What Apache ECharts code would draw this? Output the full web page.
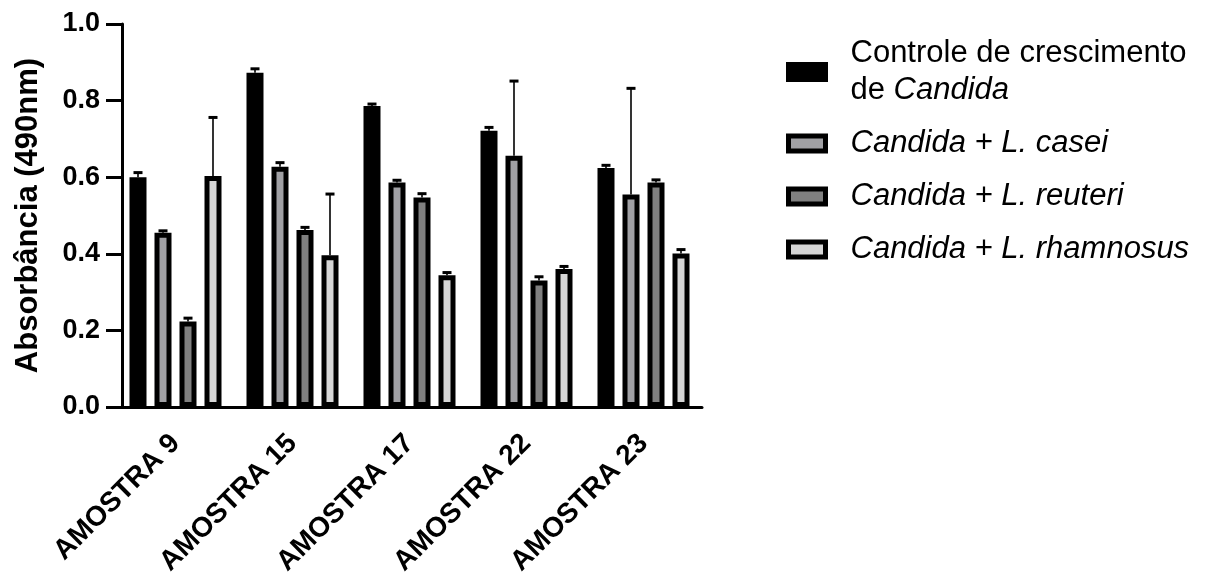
<!DOCTYPE html>
<html>
<head>
<meta charset="UTF-8">
<title>Absorbância</title>
<script src="https://cdn.jsdelivr.net/npm/echarts@6/dist/echarts.min.js"></script>
<style>
  html, body { margin: 0; padding: 0; background: #fff; }
  #main { width: 1219px; height: 583px; }
</style>
</head>
<body>
<div id="main"></div>
<script>
// categorias e valores
var categories = ['AMOSTRA 9', 'AMOSTRA 15', 'AMOSTRA 17', 'AMOSTRA 22', 'AMOSTRA 23'];
var yTicks = [0, 0.2, 0.4, 0.6, 0.8, 1.0];

var controle = [0.600, 0.873, 0.786, 0.721, 0.624];
var controleErr = [0.012, 0.010, 0.005, 0.009, 0.007];
var casei = [0.455, 0.627, 0.586, 0.656, 0.555];
var caseiErr = [0.005, 0.011, 0.006, 0.195, 0.277];
var reuteri = [0.223, 0.462, 0.547, 0.330, 0.586];
var reuteriErr = [0.009, 0.007, 0.010, 0.010, 0.007];
var rhamnosus = [0.603, 0.396, 0.344, 0.360, 0.401];
var rhamnosusErr = [0.153, 0.160, 0.007, 0.007, 0.010];

var names = ['Controle de crescimento de Candida', 'Candida + L. casei', 'Candida + L. reuteri', 'Candida + L. rhamnosus'];
var legendText = {
  'Controle de crescimento de Candida': '{n|Controle de crescimento}\n{n|de }{i|Candida}',
  'Candida + L. casei': '{i|Candida + L. casei}',
  'Candida + L. reuteri': '{i|Candida + L. reuteri}',
  'Candida + L. rhamnosus': '{i|Candida + L. rhamnosus}'
};

var font = 'Liberation Sans, Arial, sans-serif';
var fills = ['#000000', '#a0a0a4', '#808080', '#d6d6d6'];
var offsets = [-37.5, -12.5, 12.5, 37.5];

var chart = echarts.init(document.getElementById('main'));

function barSeries(name, data, idx) {
  return {
    name: name,
    type: 'bar',
    data: data,
    barWidth: 17,
    barGap: '47.06%',
    itemStyle: { color: fills[idx], borderColor: '#000', borderWidth: 5 },
    z: 2
  };
}

function errSeries(vals, errs, idx) {
  var d = [];
  for (var i = 0; i < vals.length; i++) d.push([i, vals[i], errs[i]]);
  return {
    type: 'custom',
    data: d,
    z: 5,
    silent: true,
    renderItem: function (params, api) {
      var base = api.coord([api.value(0), api.value(1)]);
      var top = api.coord([api.value(0), api.value(1) + api.value(2)]);
      var x = base[0] + offsets[idx];
      return {
        type: 'group',
        children: [
          { type: 'line', shape: { x1: x, y1: base[1], x2: x, y2: top[1] }, style: { stroke: '#000', lineWidth: 1.6 } },
          { type: 'line', shape: { x1: x - 4.5, y1: top[1], x2: x + 4.5, y2: top[1] }, style: { stroke: '#000', lineWidth: 3 } }
        ]
      };
    }
  };
}

var option = {
  animation: false,
  backgroundColor: '#fff',
  grid: { left: 117, right: 517, top: 24, bottom: 176, containLabel: false, outerBoundsMode: 'none' },
  legend: {
    orient: 'vertical',
    left: 786,
    top: 35,
    padding: 0,
    itemGap: 16,
    itemWidth: 37,
    itemHeight: 15,
    icon: 'rect',
    data: names.map(function (n, i) {
      return { name: n, itemStyle: { color: fills[i], borderColor: '#000', borderWidth: 5 } };
    }),
    formatter: function (name) { return legendText[name]; },
    textStyle: {
      color: '#000',
      fontFamily: font,
      fontSize: 31,
      lineHeight: 37,
      padding: [0, 0, 0, 20],
      rich: {
        n: { fontFamily: font, fontSize: 31, lineHeight: 37, color: '#000' },
        i: { fontFamily: font, fontSize: 31, lineHeight: 37, color: '#000', fontStyle: 'italic' }
      }
    }
  },
  xAxis: {
    type: 'category',
    data: categories,
    axisLine: { lineStyle: { color: '#000', width: 3 } },
    axisTick: { alignWithLabel: true, length: 15, lineStyle: { color: '#000', width: 3 } },
    axisLabel: {
      rotate: 45,
      margin: 32,
      color: '#000',
      fontFamily: font,
      fontWeight: 'bold',
      fontSize: 28,
      interval: 0
    }
  },
  yAxis: {
    type: 'value',
    min: yTicks[0],
    max: yTicks[yTicks.length - 1],
    interval: 0.2,
    offset: -5,
    splitLine: { show: false },
    axisLine: { show: true, lineStyle: { color: '#000', width: 3 } },
    axisTick: { show: true, length: 16, lineStyle: { color: '#000', width: 3 } },
    axisLabel: {
      margin: 22,
      color: '#000',
      fontFamily: font,
      fontWeight: 'bold',
      fontSize: 27,
      formatter: function (v) { return v.toFixed(1); }
    },
    name: 'Absorbância (490nm)',
    nameLocation: 'middle',
    nameGap: 78,
    nameTextStyle: { color: '#000', fontFamily: font, fontWeight: 'bold', fontSize: 31 }
  },
  series: [
    barSeries(names[0], controle, 0),
    barSeries(names[1], casei, 1),
    barSeries(names[2], reuteri, 2),
    barSeries(names[3], rhamnosus, 3),
    errSeries(controle, controleErr, 0),
    errSeries(casei, caseiErr, 1),
    errSeries(reuteri, reuteriErr, 2),
    errSeries(rhamnosus, rhamnosusErr, 3)
  ]
};

chart.setOption(option);
</script>
</body>
</html>
